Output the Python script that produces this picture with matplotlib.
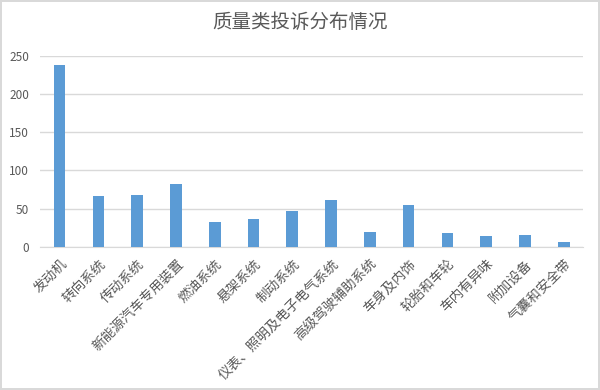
import matplotlib
matplotlib.use("Agg")
import matplotlib.pyplot as plt
import numpy as np

plt.rcParams['font.family'] = ['Noto Sans CJK SC', 'DejaVu Sans']

# complaint categories and counts
categories = ['发动机', '转向系统', '传动系统', '新能源汽车专用装置', '燃油系统', '悬架系统',
              '制动系统', '仪表、照明及电子电气系统', '高级驾驶辅助系统', '车身及内饰',
              '轮胎和车轮', '车内有异味', '附加设备', '气囊和安全带']
counts = [238, 66, 68, 82, 32, 36, 47, 61, 19, 55, 18, 14, 15, 6]
yticks = [0, 50, 100, 150, 200, 250]

fig = plt.figure(figsize=(6, 3.9), dpi=100)
fig.patch.set_edgecolor('#D9D9D9')
fig.patch.set_linewidth(1.5)
ax = fig.add_axes([0.067, 0.367, 0.905, 0.49])

x = np.arange(len(categories))
ax.bar(x, counts, width=0.3, color='#5B9BD5', zorder=3)

ax.set_ylim(0, 250)
ax.set_xlim(-0.5, len(categories) - 0.5)
ax.set_yticks(yticks)
ax.yaxis.grid(True, color='#D9D9D9', linewidth=1, zorder=0)
for s in ['top', 'right', 'left']:
    ax.spines[s].set_visible(False)
ax.spines['bottom'].set_color('#D9D9D9')
ax.tick_params(axis='both', length=0, colors='#595959', labelsize=8.5)
ax.tick_params(axis='y', pad=8)
ax.tick_params(axis='x', pad=7)
ax.set_xticks(x)
ax.set_xticklabels(categories, rotation=45, ha='right', rotation_mode='anchor', fontsize=9.8)

fig.suptitle('质量类投诉分布情况', y=0.97, fontsize=14, color='#595959')

fig.savefig('out.png', dpi=100, edgecolor=fig.get_edgecolor())
